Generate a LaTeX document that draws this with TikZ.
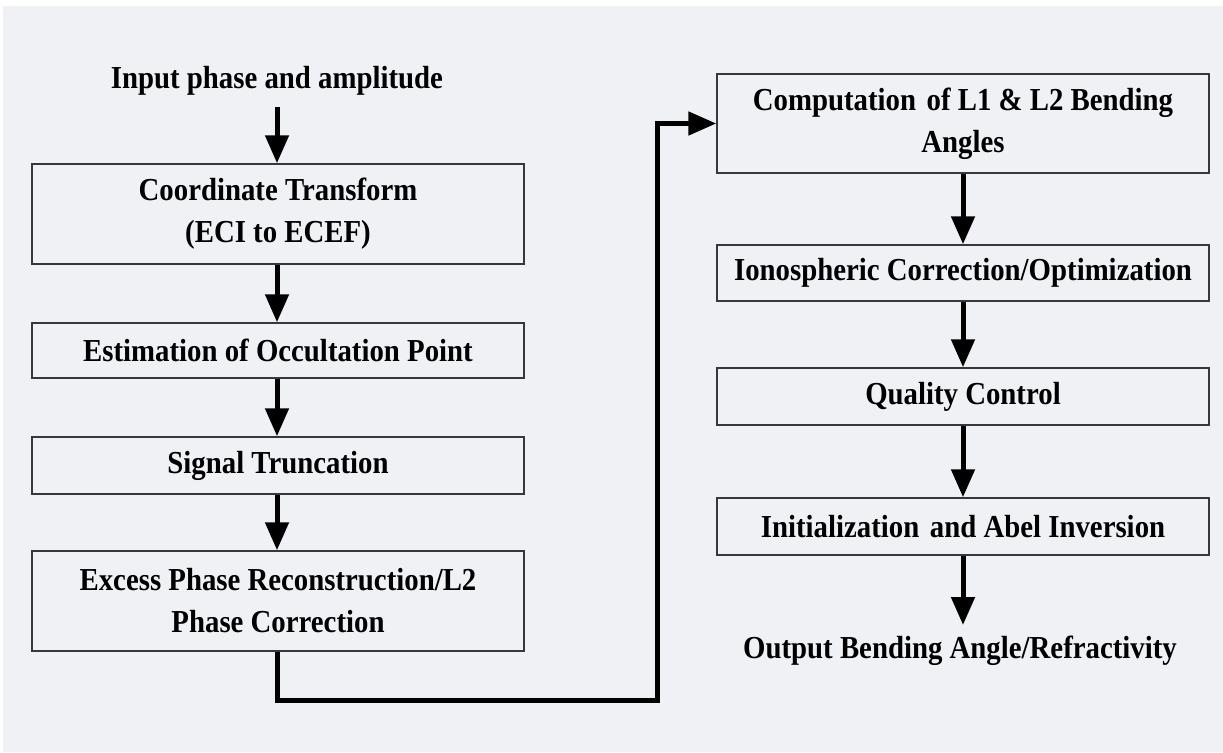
\documentclass[tikz,border=0pt]{standalone}
\usepackage{fontspec}
\setmainfont{Liberation Serif}[FakeStretch=0.9]
\usetikzlibrary{arrows.meta}
\definecolor{bgc}{RGB}{240,241,245}
\definecolor{edgec}{RGB}{55,55,60}
\tikzset{
  procbox/.style={draw=edgec, line width=1.5pt, fill=bgc, minimum width=492pt, inner sep=0pt, align=center, font=\fontsize{32}{42}\selectfont\bfseries},
  plaintext/.style={inner sep=0pt, align=center, font=\fontsize{32}{42}\selectfont\bfseries},
  flow/.style={line width=5pt, -{Triangle[width=23pt,length=28pt]}, shorten >=0pt},
}
\begin{document}
\begin{tikzpicture}[x=1pt,y=-1pt]
\useasboundingbox (0,0) rectangle (1223,752);
\fill[white] (0,0) rectangle (1223,752);
\fill[bgc] (3,6) rectangle (1223,752);

% left column
\node[plaintext] (in) at (277,81) {Input phase and amplitude};
\node[procbox, minimum height=100pt] (ct) at (278,214) {Coordinate Transform\\(ECI to ECEF)};
\node[procbox, minimum height=55pt] (eo) at (278,350.5) {Estimation of Occultation Point};
\node[procbox, minimum height=57pt] (st) at (278,465.5) {Signal Truncation};
\node[procbox, minimum height=100pt] (ex) at (278,601) {Excess Phase Reconstruction/L2\\Phase Correction};

% right column
\node[procbox, minimum height=99pt] (cb) at (963,123.5) {Computation\,\,of L1 \& L2 Bending\\Angles};
\node[procbox, minimum height=56pt] (io) at (963,273) {Ionospheric Correction/Optimization};
\node[procbox, minimum height=57pt] (qc) at (963,396.5) {Quality Control};
\node[procbox, minimum height=57pt] (ai) at (963,526.5) {Initialization\,\,and Abel Inversion};
\node[plaintext] (out) at (960,651) {Output Bending Angle/Refractivity};

\coordinate (inbot) at (277,107);
\coordinate (outtop) at (963,625);
\coordinate (turn) at (657,700);

\draw[flow] (inbot) -- (ct.north -| inbot);
\draw[flow] (ct.south -| inbot) -- (eo.north -| inbot);
\draw[flow] (eo.south -| inbot) -- (st.north -| inbot);
\draw[flow] (st.south -| inbot) -- (ex.north -| inbot);
\draw[line width=5pt, -{Triangle[width=23pt,length=28pt]}, line join=miter] (ex.south -| inbot) |- (turn) |- (cb.west);

\draw[flow] (cb.south) -- (io.north);
\draw[flow] (io.south) -- (qc.north);
\draw[flow] (qc.south) -- (ai.north);
\draw[flow] (ai.south) -- (outtop);
\end{tikzpicture}
\end{document}
